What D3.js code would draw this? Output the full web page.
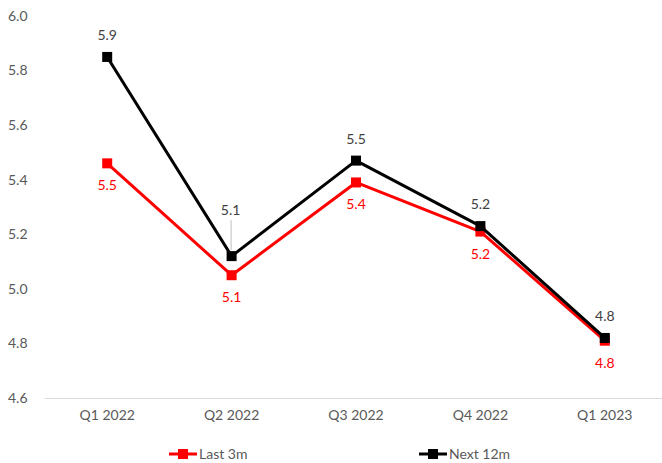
<!DOCTYPE html>
<html>
<head>
<meta charset="utf-8">
<script src="https://cdn.jsdelivr.net/npm/d3@7"></script>
<style>
  html, body { margin: 0; padding: 0; background: #fff; }
  svg { display: block; font-family: "Lato", "Open Sans", sans-serif; }
</style>
</head>
<body>
<svg id="chart" width="662" height="463"></svg>
<script>
const categories = ["Q1 2022", "Q2 2022", "Q3 2022", "Q4 2022", "Q1 2023"];
const last3m = [5.46, 5.05, 5.39, 5.21, 4.81];
const next12m = [5.85, 5.12, 5.47, 5.23, 4.82];
const last3mLabels = ["5.5", "5.1", "5.4", "5.2", "4.8"];
const next12mLabels = ["5.9", "5.1", "5.5", "5.2", "4.8"];
const yTicks = [4.6, 4.8, 5.0, 5.2, 5.4, 5.6, 5.8, 6.0];

const svg = d3.select("#chart");
const plot = { left: 45, right: 667, top: 16, bottom: 398 };

const x = d3.scaleBand().domain(categories).range([plot.left, plot.right]);
const y = d3.scaleLinear().domain([4.6, 6.0]).range([plot.bottom, plot.top]);
const cx = d => x(d) + x.bandwidth() / 2;

// y tick labels (no axis line or gridlines)
svg.append("g").selectAll("text").data(yTicks).join("text")
  .attr("x", 8).attr("y", d => y(d)).attr("dy", "0.35em")
  .attr("font-size", 14).attr("fill", "#595959")
  .text(d => d.toFixed(1));

// category axis
svg.append("line")
  .attr("x1", plot.left).attr("x2", 662).attr("y1", plot.bottom + 0.5).attr("y2", plot.bottom + 0.5)
  .attr("stroke", "#d9d9d9").attr("stroke-width", 1);
svg.append("g").selectAll("text").data(categories).join("text")
  .attr("x", d => cx(d)).attr("y", 420).attr("text-anchor", "middle")
  .attr("font-size", 14).attr("fill", "#595959")
  .text(d => d);

const line = d3.line().x((d, i) => cx(categories[i])).y(d => y(d));

function drawSeries(values, color) {
  const g = svg.append("g");
  g.append("path").datum(values)
    .attr("d", line).attr("fill", "none")
    .attr("stroke", color).attr("stroke-width", 3).attr("stroke-linejoin", "round");
  g.selectAll("rect").data(values).join("rect")
    .attr("x", (d, i) => cx(categories[i]) - 5)
    .attr("y", d => y(d) - 5)
    .attr("width", 10).attr("height", 10).attr("fill", color);
}

drawSeries(last3m, "#ff0000");
drawSeries(next12m, "#000000");

// leader line for the label lifted clear of the lines
svg.append("line")
  .attr("x1", cx(categories[1]) - 0.5).attr("x2", cx(categories[1]) - 0.5)
  .attr("y1", y(next12m[1]) - 36).attr("y2", y(next12m[1]) - 6)
  .attr("stroke", "#bfbfbf").attr("stroke-width", 1);

// data labels
svg.append("g").selectAll("text").data(next12m).join("text")
  .attr("x", (d, i) => cx(categories[i]) + (i === 1 ? -1 : 0))
  .attr("y", (d, i) => y(d) - (i === 1 ? 41 : 17))
  .attr("text-anchor", "middle").attr("font-size", 14).attr("fill", "#404040")
  .text((d, i) => next12mLabels[i]);

svg.append("g").selectAll("text").data(last3m).join("text")
  .attr("x", (d, i) => cx(categories[i]))
  .attr("y", d => y(d) + 27)
  .attr("text-anchor", "middle").attr("font-size", 14).attr("fill", "#ff0000")
  .text((d, i) => last3mLabels[i]);

// legend
const legend = [
  { name: "Last 3m", color: "#ff0000", x: 169 },
  { name: "Next 12m", color: "#000000", x: 419 }
];
const lg = svg.append("g").selectAll("g").data(legend).join("g")
  .attr("transform", d => `translate(${d.x},454)`);
lg.append("line").attr("x1", 0).attr("x2", 28).attr("y1", 0).attr("y2", 0)
  .attr("stroke", d => d.color).attr("stroke-width", 3);
lg.append("rect").attr("x", 9).attr("y", -5).attr("width", 10).attr("height", 10)
  .attr("fill", d => d.color);
lg.append("text").attr("x", 30).attr("y", 0).attr("dy", "0.35em")
  .attr("font-size", 14).attr("fill", "#595959")
  .text(d => d.name);
</script>
</body>
</html>
